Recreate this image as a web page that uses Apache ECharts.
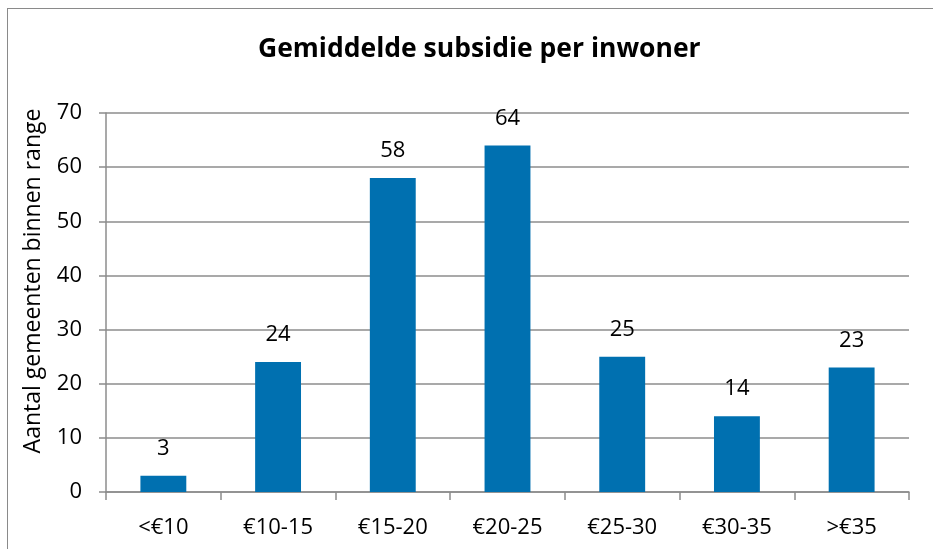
<!DOCTYPE html>
<html><head><meta charset="utf-8">
<script src="https://cdn.jsdelivr.net/npm/echarts@6/dist/echarts.min.js"></script>
<style>html,body{margin:0;padding:0;background:#fff}#c{width:933px;height:549px;position:relative}
#frame{position:absolute;left:7px;top:8px;width:940px;height:560px;border:1px solid #8a8a8a;box-sizing:border-box;pointer-events:none}</style>
</head><body><div id="c"></div><div id="frame"></div>
<script>
const categories = ['<€10','€10-15','€15-20','€20-25','€25-30','€30-35','>€35'];
const values = [3,24,58,64,25,14,23];
const yTicks = {min:0,max:70,interval:10};
const yName = 'Aantal gemeenten binnen range';
const F = '"Open Sans", sans-serif';
const chart = echarts.init(document.getElementById('c'));
chart.setOption({
  animation:false,
  title:{text:'Gemiddelde subsidie per inwoner',left:253,top:31,
    textStyle:{fontFamily:F,fontSize:26.5,fontWeight:'bold',color:'#000'}},
  grid:{left:106,right:24,top:113,bottom:57},
  graphic:[{type:'text',x:33,y:281,rotation:Math.PI/2,
    style:{text:yName,fontFamily:F,fontSize:23,fill:'#000',align:'center',verticalAlign:'middle'}}],
  xAxis:{type:'category',data:categories,
    axisLine:{lineStyle:{color:'#8c8c8c',width:1.5}},
    axisTick:{show:true,length:8,alignWithLabel:false,lineStyle:{color:'#8c8c8c',width:1.5}},
    axisLabel:{fontFamily:F,fontSize:22,color:'#000',margin:25}},
  yAxis:{type:'value',min:yTicks.min,max:yTicks.max,interval:yTicks.interval,
    axisLine:{show:true,lineStyle:{color:'#8c8c8c',width:1.5}},
    axisTick:{show:true,length:7,lineStyle:{color:'#8c8c8c',width:1.5}},
    splitLine:{lineStyle:{color:'#8c8c8c',width:1.5}},
    axisLabel:{fontFamily:F,fontSize:22,color:'#000',margin:24}},
  series:[{type:'bar',data:values,barWidth:'40%',
    itemStyle:{color:'#0070b0'},
    label:{show:true,position:'top',distance:16,fontFamily:F,fontSize:22,color:'#000'}}]
});
</script></body></html>
